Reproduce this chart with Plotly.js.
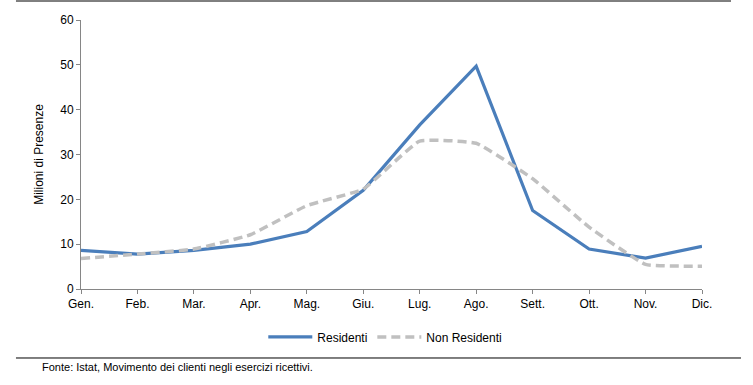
<!DOCTYPE html>
<html>
<head>
<meta charset="utf-8">
<script src="https://cdn.plot.ly/plotly-3.0.1.min.js"></script>
<style>
html,body{margin:0;padding:0;background:#fff;}
#chart{width:753px;height:385px;}
</style>
</head>
<body>
<div id="chart"></div>
<script>
const months = ["Gen.","Feb.","Mar.","Apr.","Mag.","Giu.","Lug.","Ago.","Sett.","Ott.","Nov.","Dic."];
const residenti = [8.6, 7.8, 8.6, 10.0, 12.8, 22.0, 36.6, 49.7, 17.5, 8.9, 6.9, 9.5];
const nonResidenti = [6.8, 7.8, 8.9, 12.1, 18.6, 22.3, 33.0, 32.5, 24.6, 13.8, 5.5, 5.1];
const yTitle = "Milioni di Presenze";
const source = "Fonte: Istat, Movimento dei clienti negli esercizi ricettivi.";

const FONT = '"Liberation Sans Narrow", "Arial Narrow", "Liberation Sans", Arial, sans-serif';

const traces = [
  {
    x: months, y: residenti, name: "Residenti", type: "scatter", mode: "lines",
    line: {color: "#4a7ebb", width: 3.2}
  },
  {
    x: months, y: nonResidenti, name: "Non Residenti", type: "scatter", mode: "lines",
    line: {color: "#c0c0c0", width: 3.5, dash: "9px,5px", shape: "spline", smoothing: 0.35}
  }
];

const layout = {
  width: 753, height: 385,
  margin: {l: 81, r: 51, t: 20, b: 96},
  paper_bgcolor: "#ffffff", plot_bgcolor: "#ffffff",
  font: {family: FONT, size: 12, color: "#000"},
  showlegend: true,
  legend: {
    orientation: "h", x: 0.49, xanchor: "center", y: -0.178, yanchor: "middle",
    font: {family: FONT, size: 12, color: "#000"}, itemwidth: 44, tracegroupgap: 0
  },
  xaxis: {
    type: "category", range: [0, 11], showgrid: false, zeroline: false,
    showline: true, linecolor: "#868686", linewidth: 1,
    ticks: "outside", ticklen: 4, tickcolor: "#868686", tickson: "labels",
    tickfont: {family: FONT, size: 12, color: "#000"}, fixedrange: true
  },
  yaxis: {
    range: [0, 60], dtick: 10, showgrid: false, zeroline: false,
    showline: true, linecolor: "#868686", linewidth: 1,
    ticks: "outside", ticklen: 4, tickcolor: "#868686",
    tickfont: {family: FONT, size: 12, color: "#000"},
    title: {text: yTitle, font: {family: FONT, size: 12, color: "#000"}, standoff: 14}
  },
  shapes: [
    {type: "line", xref: "paper", yref: "paper", x0: -0.1047, x1: 1.0467, y0: 1.0706, y1: 1.0706,
     line: {color: "#000", width: 1}},
    {type: "line", xref: "paper", yref: "paper", x0: -0.1047, x1: 1.0628, y0: -0.2565, y1: -0.2565,
     line: {color: "#000", width: 1}}
  ],
  annotations: [
    {text: source, xref: "paper", yref: "paper", x: -0.066, y: -0.29, xanchor: "left", yanchor: "middle",
     showarrow: false, font: {family: FONT, size: 11, color: "#000"}}
  ]
};

Plotly.newPlot("chart", traces, layout, {displayModeBar: false, staticPlot: true});
</script>
</body>
</html>
